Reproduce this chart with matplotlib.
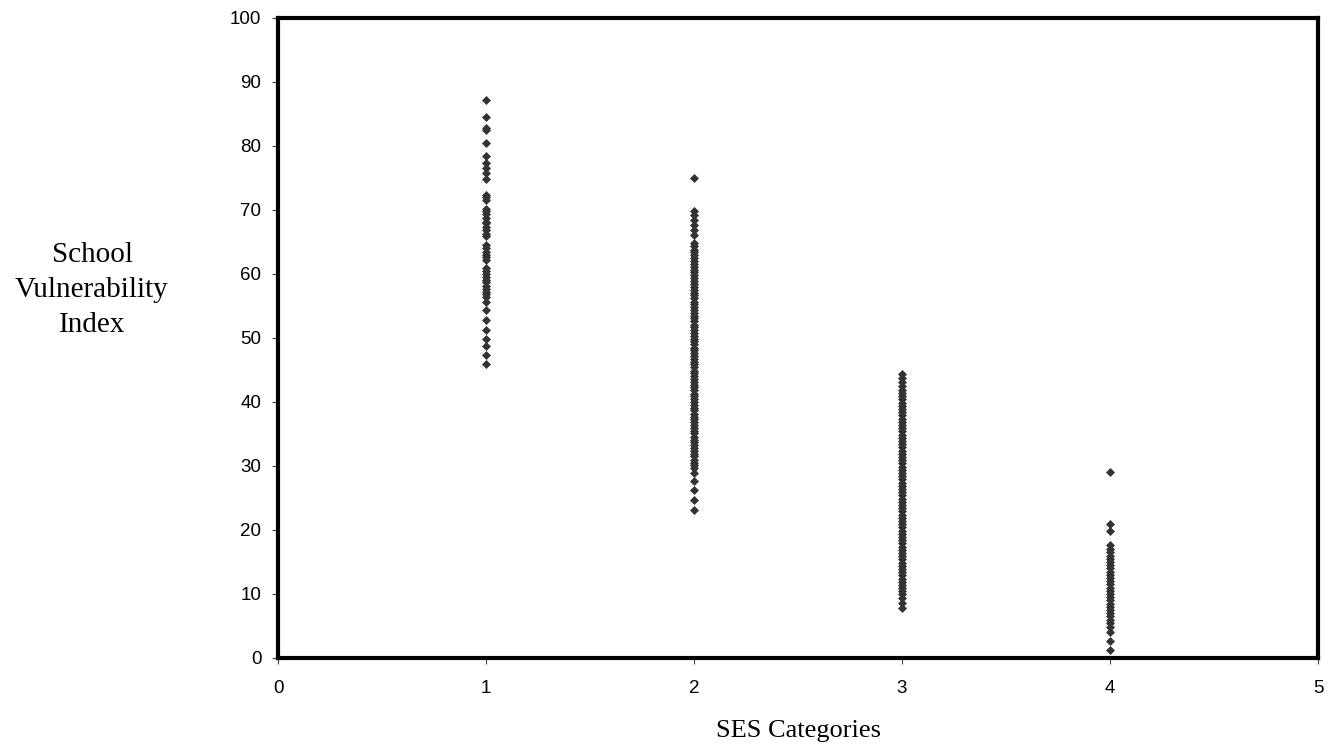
import matplotlib
matplotlib.use("Agg")
import matplotlib.pyplot as plt

ses1 = [87.2, 84.5, 82.8, 82.5, 80.4, 78.5, 77.3, 76.6, 75.8, 74.8, 72.4, 72.0, 71.5,
        70.2, 69.8, 69.3, 68.7, 68.2, 67.9, 67.4, 66.8, 66.3, 65.9, 64.6, 64.1, 63.5,
        63.0, 62.6, 62.2, 60.9, 60.5, 60.0, 59.6, 59.1, 58.7, 58.1, 57.6, 57.2, 56.8,
        56.4, 55.7, 54.4, 52.8, 51.3, 49.9, 48.8, 47.3, 45.9]

ses2 = [75.0, 69.9, 69.2, 68.5, 67.7, 66.9, 66.1,
        64.8, 64.3, 63.8, 63.4, 62.9, 62.5, 62.1, 61.6, 61.1, 60.7, 60.3, 59.8, 59.3,
        58.9, 58.5, 58.0, 57.5, 57.1, 56.7, 56.2, 55.7, 55.3, 54.9, 54.4, 53.9, 53.5,
        53.1, 52.6, 52.1, 51.7, 51.3, 50.8, 50.3, 49.9, 49.5, 49.0, 48.5, 48.1, 47.7,
        47.2, 46.7, 46.3, 45.9, 45.4, 44.9, 44.5, 44.1, 43.6, 43.1, 42.7, 42.3, 41.8,
        41.3, 40.9, 40.5, 40.0, 39.5, 39.1, 38.7, 38.2, 37.7, 37.3, 36.9, 36.4, 35.9,
        35.5, 35.1, 34.6, 34.1, 33.7, 33.3, 32.8, 32.3, 31.9, 31.5, 31.0, 30.5, 30.1,
        29.7, 28.9, 27.6, 26.2, 24.7, 23.1]

ses3 = [44.3, 43.7, 43.1, 42.5, 41.9, 41.4, 40.9, 40.4, 39.9, 39.4, 38.9, 38.4, 37.9,
        37.4, 36.9, 36.4, 35.9, 35.4, 34.9, 34.4, 33.9, 33.4, 32.9, 32.4, 31.9, 31.4,
        30.9, 30.4, 29.9, 29.4, 28.9, 28.4, 27.9, 27.4, 26.9, 26.4, 25.9, 25.4, 24.9,
        24.4, 23.9, 23.4, 22.9, 22.4, 21.9, 21.4, 20.9, 20.4, 19.9, 19.4, 18.9, 18.4,
        17.9, 17.4, 16.9, 16.4, 15.9, 15.4, 14.9, 14.4, 13.9, 13.4, 12.9, 12.4, 11.9,
        11.4, 10.9, 10.5, 10.0, 9.4, 8.6, 7.8]

ses4 = [29.0, 21.0, 19.8, 17.6, 17.0, 16.5, 16.0, 15.5, 15.0, 14.5, 14.0, 13.5, 13.0,
        12.5, 12.0, 11.5, 11.0, 10.5, 10.0, 9.5, 9.0, 8.5, 8.0, 7.5, 7.0, 6.5, 6.0,
        5.5, 4.9, 4.0, 2.6, 1.3]

categories = [1, 2, 3, 4]
series = [ses1, ses2, ses3, ses4]

fig = plt.figure(figsize=(13.3, 7.46), dpi=100)
ax = fig.add_axes([278/1330, 1 - 658/746, (1318-278)/1330, (658-18)/746])

for c, vals in zip(categories, series):
    ax.plot([c]*len(vals), vals, linestyle='none', marker='D', markersize=4.0,
            color='#333333', markeredgewidth=0.5, markeredgecolor='#333333',
            clip_on=False, zorder=3)

ax.set_xlim(0, 5)
ax.set_ylim(0, 100)
ax.set_xticks([0, 1, 2, 3, 4, 5])
ax.set_yticks(range(0, 101, 10))
for s in ax.spines.values():
    s.set_linewidth(3.0)
    s.set_color('black')
ax.tick_params(axis='both', direction='out', length=4, width=0.8, color='#444444',
               labelsize=13.5)
ax.tick_params(axis='y', pad=8)
ax.tick_params(axis='x', pad=12)
for lab in ax.get_xticklabels() + ax.get_yticklabels():
    lab.set_fontfamily('Liberation Sans')

fig.text(92/1330, 1 - 290/746, 'School\nVulnerability\nIndex', ha='center', va='center',
         multialignment='center', fontsize=21, family='Liberation Serif', linespacing=1.45)
fig.text(798/1330, 1 - 731/746, 'SES Categories', ha='center', va='center',
         fontsize=19, family='Liberation Serif')

fig.savefig('out.png', dpi=100)
